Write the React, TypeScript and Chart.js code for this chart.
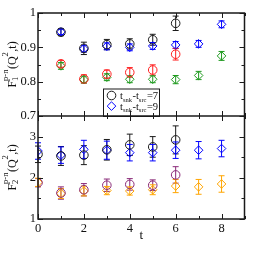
import React, { useEffect, useRef } from 'react';
import { Chart, registerables } from 'chart.js';
Chart.register(...registerables);

// time slices
const tF7 = [1, 2, 3, 4, 5, 6];
const tF9 = [1, 2, 3, 4, 5, 6, 7, 8];
const tG7 = [0, 1, 2, 3, 4, 5, 6];
const tG9 = [0, 1, 2, 3, 4, 5, 6, 7, 8];

// F1 (top panel)
const f1A7 = [0.944, 0.897, 0.908, 0.910, 0.922, 0.970];
const f1A7Err = [0.010, 0.018, 0.015, 0.015, 0.016, 0.021];
const f1A9 = [0.945, 0.896, 0.903, 0.900, 0.904, 0.907, 0.910, 0.967];
const f1A9Err = [0.008, 0.010, 0.010, 0.010, 0.010, 0.010, 0.010, 0.010];
const f1B7 = [0.852, 0.808, 0.822, 0.827, 0.834, 0.880];
const f1B7Err = [0.010, 0.012, 0.012, 0.014, 0.015, 0.017];
const f1B9 = [0.846, 0.806, 0.813, 0.807, 0.807, 0.806, 0.818, 0.875];
const f1B9Err = [0.010, 0.010, 0.010, 0.010, 0.010, 0.012, 0.012, 0.013];

// F2 (bottom panel)
const f2A7 = [2.57, 2.53, 2.55, 2.68, 2.80, 2.75, 2.92];
const f2A7Err = [0.20, 0.23, 0.23, 0.25, 0.26, 0.25, 0.34];
const f2A9 = [2.65, 2.55, 2.69, 2.67, 2.61, 2.61, 2.67, 2.67, 2.71];
const f2A9Err = [0.20, 0.20, 0.22, 0.22, 0.20, 0.20, 0.20, 0.21, 0.20];
const f2B7 = [1.88, 1.63, 1.71, 1.82, 1.84, 1.82, 2.07];
const f2B7Err = [0.10, 0.15, 0.15, 0.15, 0.14, 0.13, 0.20];
const f2B9 = [1.89, 1.62, 1.68, 1.69, 1.68, 1.71, 1.80, 1.78, 1.85];
const f2B9Err = [0.10, 0.12, 0.12, 0.10, 0.10, 0.12, 0.16, 0.18, 0.20];

const legendLabels = ['7', '9'];
const xTickLabels = ['0', '2', '4', '6', '8'];

const FAM = "'Liberation Serif','DejaVu Serif','Times New Roman',serif";
const FRAME = '#1a1a1a';

type Part = { m?: string; sub?: string; sup?: string };

function partWidth(ctx: CanvasRenderingContext2D, p: Part, main: number, small: number) {
  if (p.m !== undefined) {
    ctx.font = `${main}px ${FAM}`;
    return ctx.measureText(p.m).width;
  }
  ctx.font = `${small}px ${FAM}`;
  const a = p.sub ? ctx.measureText(p.sub).width : 0;
  const b = p.sup ? ctx.measureText(p.sup).width : 0;
  return Math.max(a, b) + 0.5;
}

function drawRich(
  ctx: CanvasRenderingContext2D,
  parts: Part[],
  x: number,
  y: number,
  main: number,
  small: number,
  subOff: number,
  supOff: number,
  center: boolean
) {
  let total = 0;
  for (const p of parts) total += partWidth(ctx, p, main, small);
  let cx = center ? x - total / 2 : x;
  ctx.textBaseline = 'alphabetic';
  ctx.textAlign = 'left';
  for (const p of parts) {
    const w = partWidth(ctx, p, main, small);
    if (p.m !== undefined) {
      ctx.font = `${main}px ${FAM}`;
      ctx.fillText(p.m, cx, y);
    } else {
      ctx.font = `${small}px ${FAM}`;
      if (p.sub) ctx.fillText(p.sub, cx, y + subOff);
      if (p.sup) ctx.fillText(p.sup, cx, y + supOff);
    }
    cx += w;
  }
}

function mk(xs: number[], ys: number[], errs: number[], color: string, style: string, axis: string, label: string) {
  return {
    type: 'scatter',
    label,
    data: xs.map((x, i) => ({ x, y: ys[i] })),
    errors: errs,
    yAxisID: axis,
    showLine: false,
    pointStyle: style,
    pointRadius: 4.3,
    pointBorderWidth: 1,
    pointBorderColor: color,
    pointBackgroundColor: 'rgba(0,0,0,0)',
    borderColor: color,
    backgroundColor: 'rgba(0,0,0,0)',
  };
}

const errorBars = {
  id: 'errorBars',
  beforeDatasetsDraw(chart: any) {
    const ctx = chart.ctx;
    ctx.save();
    chart.data.datasets.forEach((ds: any, di: number) => {
      const meta = chart.getDatasetMeta(di);
      const ys = chart.scales[ds.yAxisID];
      ctx.strokeStyle = ds.pointBorderColor;
      ctx.lineWidth = 1;
      meta.data.forEach((pt: any, i: number) => {
        const v = ds.data[i].y;
        const e = ds.errors[i];
        const y1 = ys.getPixelForValue(v + e);
        const y2 = ys.getPixelForValue(v - e);
        const x = pt.x;
        ctx.beginPath();
        ctx.moveTo(x, y1);
        ctx.lineTo(x, y2);
        ctx.moveTo(x - 3, y1);
        ctx.lineTo(x + 3, y1);
        ctx.moveTo(x - 3, y2);
        ctx.lineTo(x + 3, y2);
        ctx.stroke();
      });
    });
    ctx.restore();
  },
};

const frameAndDecor = {
  id: 'frameAndDecor',
  afterDraw(chart: any) {
    const ctx = chart.ctx;
    const ca = chart.chartArea;
    const xs = chart.scales.x;
    const yT = chart.scales.yTop;
    const yB = chart.scales.yBot;
    const sep = yT.bottom;
    ctx.save();

    // legend
    const lx = ca.left + 65;
    const lt = sep - 27.5;
    const lw = 56;
    ctx.fillStyle = '#ffffff';
    ctx.fillRect(lx, lt, lw, sep - lt);
    ctx.strokeStyle = FRAME;
    ctx.lineWidth = 1;
    ctx.strokeRect(lx + 0.5, lt + 0.5, lw, sep - lt);
    const ds = chart.data.datasets;
    legendLabels.forEach((lab, i) => {
      const d = ds[i];
      const cy = lt + 7 + i * 10.6;
      const cx = lx + 8.5;
      ctx.strokeStyle = d.pointBorderColor;
      ctx.lineWidth = 1;
      ctx.beginPath();
      if (d.pointStyle === 'circle') {
        ctx.arc(cx, cy, 4.3, 0, Math.PI * 2);
      } else {
        ctx.moveTo(cx, cy - 4.3);
        ctx.lineTo(cx + 4.3, cy);
        ctx.lineTo(cx, cy + 4.3);
        ctx.lineTo(cx - 4.3, cy);
        ctx.closePath();
      }
      ctx.stroke();
      ctx.fillStyle = '#111';
      drawRich(ctx, [{ m: 't' }, { sub: 'snk' }, { m: '-t' }, { sub: 'src' }, { m: '=' + lab }], lx + 17, cy + 3.5, 10.5, 6.5, 2.5, 0, false);
    });

    // frame
    ctx.strokeStyle = FRAME;
    ctx.lineWidth = 1.5;
    ctx.strokeRect(ca.left, ca.top, ca.right - ca.left, ca.bottom - ca.top);
    ctx.beginPath();
    ctx.moveTo(ca.left, sep);
    ctx.lineTo(ca.right, sep);
    ctx.stroke();

    // ticks
    ctx.lineWidth = 1;
    ctx.beginPath();
    for (let v = xs.min; v <= xs.max + 1e-9; v += 1) {
      const px = Math.round(xs.getPixelForValue(v)) + 0.5;
      const len = Math.round(v) % 2 === 0 ? 5 : 3;
      ctx.moveTo(px, ca.bottom); ctx.lineTo(px, ca.bottom - len);
      ctx.moveTo(px, ca.top); ctx.lineTo(px, ca.top + len);
      ctx.moveTo(px, sep); ctx.lineTo(px, sep - len);
      ctx.moveTo(px, sep); ctx.lineTo(px, sep + len);
    }
    const yTicks = (sc: any, step: number, majorEvery: number) => {
      const n = Math.round((sc.max - sc.min) / step);
      for (let k = 0; k <= n; k++) {
        const v = sc.min + k * step;
        const py = Math.round(sc.getPixelForValue(v)) + 0.5;
        const len = k % majorEvery === 0 ? 5 : 3;
        ctx.moveTo(ca.left, py); ctx.lineTo(ca.left + len, py);
        ctx.moveTo(ca.right, py); ctx.lineTo(ca.right - len, py);
      }
    };
    yTicks(yT, 0.05, 2);
    yTicks(yB, 0.5, 2);
    ctx.stroke();

    // y-axis titles
    ctx.fillStyle = '#111';
    const titles: [any, string][] = [[yT, '1'], [yB, '2']];
    titles.forEach(([sc, idx]) => {
      ctx.save();
      ctx.translate(15.5, (sc.top + sc.bottom) / 2);
      ctx.rotate(-Math.PI / 2);
      drawRich(ctx, [{ m: 'F' }, { sub: idx, sup: 'p-n' }, { m: '(Q' }, { sup: '2' }, { m: ',t)' }], 0, 0, 12, 8.5, 2.5, -7.5, true);
      ctx.restore();
    });
    ctx.restore();
  },
};

export default function App() {
  const ref = useRef<HTMLCanvasElement | null>(null);
  useEffect(() => {
    if (!ref.current) return;
    const tickFont = { family: FAM, size: 12.5 };
    const chart = new Chart(ref.current, {
      type: 'scatter',
      data: {
        datasets: [
          mk(tF7, f1A7, f1A7Err, '#1a1a1a', 'circle', 'yTop', 'F1 tsep7 Q1'),
          mk(tF9, f1A9, f1A9Err, '#0000ff', 'rectRot', 'yTop', 'F1 tsep9 Q1'),
          mk(tF7, f1B7, f1B7Err, '#ff2020', 'circle', 'yTop', 'F1 tsep7 Q2'),
          mk(tF9, f1B9, f1B9Err, '#1f9a1f', 'rectRot', 'yTop', 'F1 tsep9 Q2'),
          mk(tG7, f2A7, f2A7Err, '#1a1a1a', 'circle', 'yBot', 'F2 tsep7 Q1'),
          mk(tG9, f2A9, f2A9Err, '#0000ff', 'rectRot', 'yBot', 'F2 tsep9 Q1'),
          mk(tG7, f2B7, f2B7Err, '#8a2a78', 'circle', 'yBot', 'F2 tsep7 Q2'),
          mk(tG9, f2B9, f2B9Err, '#ffa500', 'rectRot', 'yBot', 'F2 tsep9 Q2'),
        ] as any,
      },
      options: {
        animation: false,
        responsive: true,
        maintainAspectRatio: false,
        events: [],
        layout: { padding: { top: 13, right: 13.5, left: 0, bottom: 0 } },
        plugins: { legend: { display: false }, tooltip: { enabled: false } },
        scales: {
          x: {
            type: 'linear',
            min: 0,
            max: 9,
            position: 'bottom',
            grid: { display: false, drawTicks: false },
            border: { display: false },
            ticks: {
              stepSize: 2,
              autoSkip: false,
              maxRotation: 0,
              padding: 2,
              color: '#111',
              font: tickFont,
              callback: (v: any) => {
                const s = String(Math.round(Number(v)));
                return xTickLabels.includes(s) && Math.abs(Number(v) - Math.round(Number(v))) < 1e-6 ? s : '';
              },
            },
            title: { display: true, text: 't', color: '#111', font: { family: FAM, size: 13 }, padding: { top: 0, bottom: 15 } },
            afterFit: (s: any) => { s.height = 39; },
          },
          yBot: {
            type: 'linear',
            min: 1,
            max: 3.5,
            position: 'left',
            stack: 'panels',
            stackWeight: 1,
            grid: { display: false, drawTicks: false },
            border: { display: false },
            ticks: {
              stepSize: 1,
              autoSkip: false,
              padding: 2,
              color: '#111',
              font: tickFont,
              callback: (v: any) => (Math.abs(Number(v) - Math.round(Number(v))) < 1e-6 ? String(Math.round(Number(v))) : ''),
            },
            afterFit: (s: any) => { s.width = 38; },
          },
          yTop: {
            type: 'linear',
            min: 0.7,
            max: 1,
            position: 'left',
            stack: 'panels',
            stackWeight: 1,
            grid: { display: false, drawTicks: false },
            border: { display: false },
            ticks: {
              stepSize: 0.1,
              autoSkip: false,
              padding: 2,
              color: '#111',
              font: tickFont,
              callback: (v: any) => String(Number(Number(v).toFixed(2))),
            },
            afterFit: (s: any) => { s.width = 38; },
          },
        },
      } as any,
      plugins: [errorBars, frameAndDecor],
    });
    return () => chart.destroy();
  }, []);
  return (
    <div style={{ position: 'fixed', left: 0, top: 0, width: 258, height: 258, background: '#fff' }}>
      <canvas ref={ref} />
    </div>
  );
}
